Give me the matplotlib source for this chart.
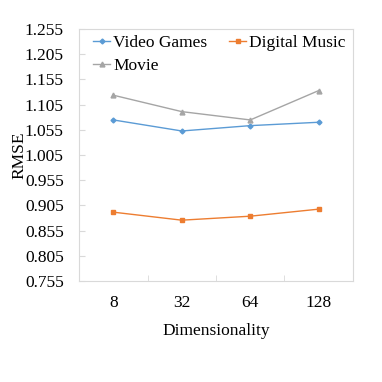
import matplotlib

matplotlib.use("Agg")
import matplotlib.pyplot as plt
from matplotlib.ticker import FixedLocator

# Data
dims = ["8", "32", "64", "128"]
video_games = [1.0746, 1.0527, 1.0633, 1.0700]
digital_music = [0.8916, 0.8757, 0.8836, 0.8976]
movie = [1.1237, 1.0911, 1.0746, 1.1329]
y_ticks = [0.755, 0.805, 0.855, 0.905, 0.955, 1.005, 1.055, 1.105, 1.155, 1.205, 1.255]

plt.rcParams["font.family"] = ["Liberation Serif", "DejaVu Serif"]
plt.rcParams["font.size"] = 12.5

fig = plt.figure(figsize=(3.82, 3.82), dpi=100)
ax = fig.add_axes([0.207, 0.2644, 0.717, 0.6596])

x = list(range(len(dims)))
l_vg, = ax.plot(x, video_games, color="#5B9BD5", marker="D", markersize=2.5, lw=1.0, label="Video Games")
l_dm, = ax.plot(x, digital_music, color="#ED7D31", marker="s", markersize=3.5, lw=1.0, label="Digital Music")
l_mv, = ax.plot(x, movie, color="#A5A5A5", marker="^", markersize=3.5, lw=1.0, label="Movie")

ax.set_xlim(-0.5, len(dims) - 0.5)
ax.set_ylim(y_ticks[0], y_ticks[-1])
ax.set_yticks(y_ticks)
ax.set_yticklabels([f"{v:.3f}" for v in y_ticks])
ax.set_xticks(x)
ax.set_xticklabels(dims)
ax.xaxis.set_minor_locator(FixedLocator([0.5, 1.5, 2.5]))

for s in ax.spines.values():
    s.set_color("#D9D9D9")
    s.set_linewidth(0.8)

ax.tick_params(axis="x", which="major", length=0, pad=10)
ax.tick_params(axis="x", which="minor", direction="in", length=4, color="#D9D9D9")
ax.tick_params(axis="y", direction="in", length=4, color="#D9D9D9", pad=11)

ax.set_xlabel("Dimensionality", labelpad=9)
ax.set_ylabel("RMSE", labelpad=-2)

# column-wise fill: VG, Movie in col 1; Digital Music in col 2 -> row order VG, DM / Movie
ax.legend([l_vg, l_mv, l_dm], ["Video Games", "Movie", "Digital Music"],
          loc="upper left", ncol=2, frameon=False, fontsize=12.5,
          handlelength=1.0, handletextpad=0.15, columnspacing=1.25,
          borderaxespad=0, borderpad=0, labelspacing=0.42,
          bbox_to_anchor=(0.051, 0.978))

fig.savefig("out.png", dpi=100)
plt.close(fig)
